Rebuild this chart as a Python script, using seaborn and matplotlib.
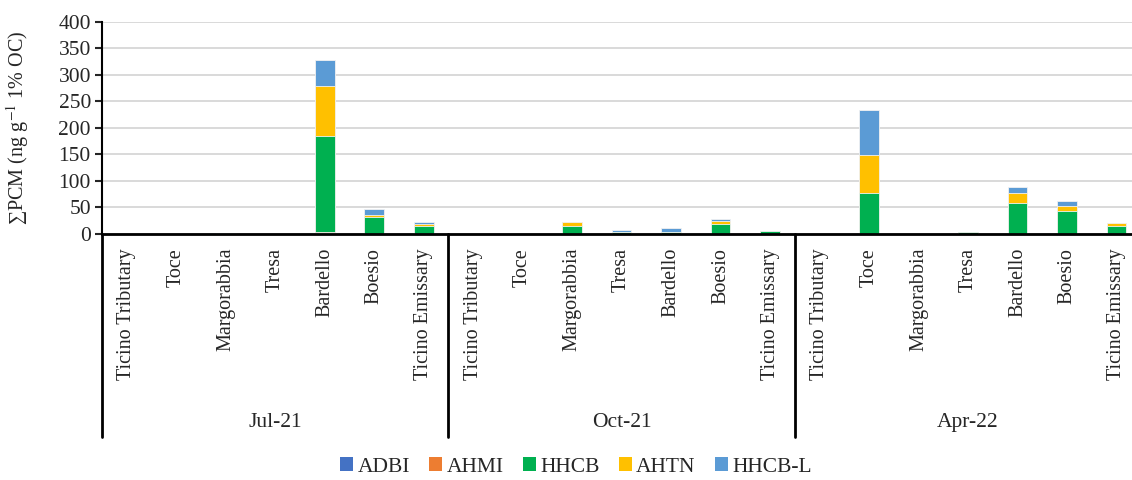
import pandas as pd
import matplotlib.pyplot as plt
import matplotlib.transforms as mtransforms
import seaborn as sns
from matplotlib.patches import Patch

# Campañas y sitios de muestreo
campaigns = ['Jul-21', 'Oct-21', 'Apr-22']
sites = ['Ticino Tributary', 'Toce', 'Margorabbia', 'Tresa', 'Bardello', 'Boesio', 'Ticino Emissary']
compounds = ['ADBI', 'AHMI', 'HHCB', 'AHTN', 'HHCB-L']
colors = ['#4472C4', '#ED7D31', '#00B050', '#FFC000', '#5B9BD5']

# Concentraciones (ng g-1 1% OC), orden: Jul-21, Oct-21, Apr-22 x 7 sitios
adbi = [0, 0, 0, 0, 2.0, 0, 0,
        0, 0, 0, 0, 0, 0, 0,
        0, 0, 0, 0, 0, 0, 0]
ahmi = [0, 0, 0, 0, 2.5, 0, 0,
        0, 0, 0, 0, 0, 0, 0,
        0, 0, 0, 0, 0, 0, 0]
hhcb = [0, 0, 0.3, 0, 180, 32.5, 15.5,
        0, 0, 15.5, 3, 3, 18, 5,
        0, 78, 0, 3, 57.5, 43, 15]
ahtn = [0, 0, 0, 0, 95, 3.5, 3,
        0, 0, 6.5, 0.5, 0.3, 6, 0,
        0, 71, 0, 0, 20, 9.5, 5]
hhcbl = [0, 0, 1.2, 0, 48, 11, 3.5,
         0, 0, 0.5, 4.5, 8.5, 5, 1,
         0, 84, 0, 0.3, 10.5, 10.5, 0]

ids = [c + ' ' + s for c in campaigns for s in sites]
df = pd.DataFrame({'id': ids, 'ADBI': adbi, 'AHMI': ahmi, 'HHCB': hhcb,
                   'AHTN': ahtn, 'HHCB-L': hhcbl})
cum = df[compounds].cumsum(axis=1)
cum['id'] = ids

sns.set_style("white")
plt.rcParams['font.family'] = ['Liberation Serif', 'DejaVu Serif']
plt.rcParams['mathtext.fontset'] = 'stix'

fig = plt.figure(figsize=(11.32, 4.8), dpi=100)
ax = fig.add_axes([0.0901, 0.5125, 0.918, 0.4423])

# Barras apiladas: se dibuja el acumulado de arriba hacia abajo
for comp, col in reversed(list(zip(compounds, colors))):
    sns.barplot(data=cum, x='id', y=comp, order=ids, color=col, saturation=1,
                width=0.4, errorbar=None, edgecolor='#f2f2f2', linewidth=0.6, ax=ax)

ax.set_xlim(-0.5, len(ids) - 0.5)
ax.set_ylim(0, 400)
ax.set_yticks(range(0, 401, 50))
ax.set_axisbelow(True)
ax.yaxis.grid(True, color='#d9d9d9', linewidth=1.4)
ax.tick_params(axis='y', labelsize=15.5, direction='out', length=5, width=1.5, left=True, pad=3)
ax.tick_params(axis='x', length=0, pad=10, labelsize=14.5)
ax.set_xticks(range(len(ids)))
ax.set_xticklabels(sites * len(campaigns), rotation=90, va='top', ha='center')
ax.set_xlabel('')
ax.set_ylabel('∑PCM (ng g$^{-1}$ 1% OC)', fontsize=14.5, labelpad=20)

for side in ['top', 'right']:
    ax.spines[side].set_visible(False)
ax.spines['left'].set_linewidth(1.5)
ax.spines['left'].set_color('black')
ax.spines['bottom'].set_linewidth(2)
ax.spines['bottom'].set_color('black')

# Separadores y etiquetas de campaña
trans = mtransforms.blended_transform_factory(ax.transData, ax.transAxes)
for k in range(len(campaigns) + 1):
    xs = k * len(sites) - 0.5
    ax.plot([xs, xs], [0, -0.956], transform=trans, color='black', lw=2, clip_on=False)
for k, camp in enumerate(campaigns):
    ax.text(k * len(sites) + 3, -0.89, camp, transform=trans, ha='center', va='center', fontsize=15.5)

handles = [Patch(facecolor=c, edgecolor='none', label=n) for n, c in zip(compounds, colors)]
fig.legend(handles=handles, loc='center', bbox_to_anchor=(576 / 1132, 0.027), ncol=5,
           frameon=False, fontsize=15.5, handlelength=0.6, handleheight=0.6,
           handletextpad=0.2, columnspacing=0.9)

plt.savefig('out.png', dpi=100)
